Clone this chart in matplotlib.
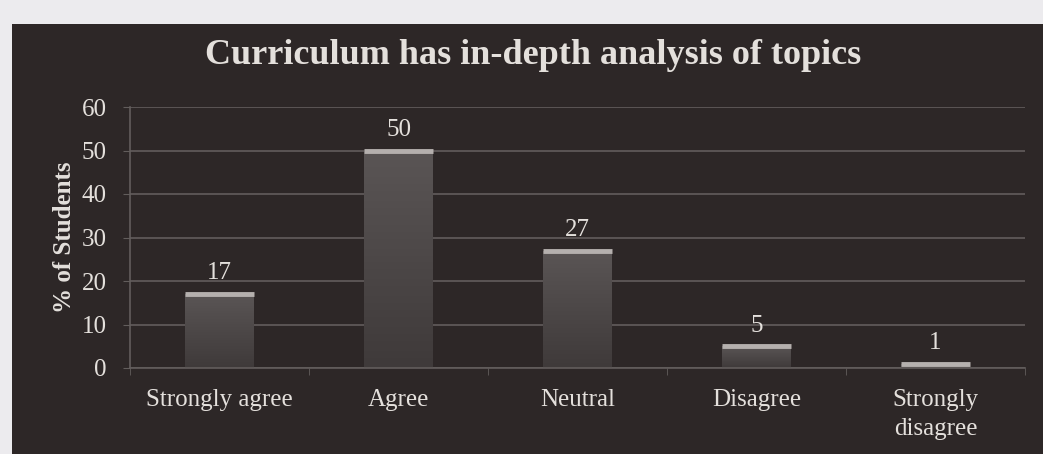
import matplotlib
matplotlib.use("Agg")
import matplotlib.pyplot as plt
import numpy as np
from matplotlib.patches import Rectangle
from matplotlib.colors import LinearSegmentedColormap

categories = ["Strongly agree", "Agree", "Neutral", "Disagree", "Strongly\ndisagree"]
values = [17, 50, 27, 5, 1]
yticks = [0, 10, 20, 30, 40, 50, 60]

bg = "#2d2727"
txt = "#e4e0dc"
grid = "#625d5c"
topc = "#b5b0ae"
cmap = LinearSegmentedColormap.from_list("bargrad", ["#3f3a3a", "#5a5555"])

plt.rcParams["font.family"] = ["Liberation Serif", "DejaVu Serif"]

fig = plt.figure(figsize=(10.43, 4.54), dpi=100)
fig.patch.set_facecolor("#ecebee")
fig.add_artist(Rectangle((12/1043, 0), 1, 1 - 24/454, transform=fig.transFigure,
                         facecolor=bg, edgecolor="none", zorder=0))

ax = fig.add_axes([130/1043, (454-368)/454, (1025-130)/1043, (368-107)/454])
ax.set_facecolor(bg)
x = np.arange(len(categories))
w = 0.38
bars = ax.bar(x, values, width=w, color="#4e4948", zorder=2)
grad = np.linspace(0, 1, 64).reshape(-1, 1)
for b in bars:
    x0, y0 = b.get_x(), b.get_y()
    im = ax.imshow(grad, cmap=cmap, aspect="auto", origin="lower",
                   extent=(x0, x0 + b.get_width(), y0, y0 + b.get_height()), zorder=2.5)
    im.set_clip_path(b)
ax.hlines(values, x - w/2, x + w/2, colors=topc, linewidth=3.5, zorder=3)

for xi, v in zip(x, values):
    ax.annotate(str(v), (xi, v), xytext=(0, 7), textcoords="offset points",
                ha="center", va="bottom", color=txt, fontsize=18)

ax.set_xlim(-0.5, len(categories) - 0.5)
ax.set_ylim(0, 60)
ax.set_yticks(yticks)
ax.set_yticklabels([str(t) for t in yticks], color=txt, fontsize=18)
ax.set_xticks(x)
ax.set_xticklabels(categories, color=txt, fontsize=18, linespacing=1.45)
ax.set_xticks(np.arange(len(categories) + 1) - 0.5, minor=True)
ax.tick_params(axis="x", which="major", length=0, pad=15)
ax.tick_params(axis="x", which="minor", length=5, color=grid)
ax.tick_params(axis="y", length=5, color=grid, pad=12)
ax.yaxis.grid(True, color=grid, linewidth=1.2, zorder=1)
ax.set_axisbelow(True)
for s in ["top", "right"]:
    ax.spines[s].set_visible(False)
for s in ["left", "bottom"]:
    ax.spines[s].set_color(grid)
    ax.spines[s].set_linewidth(1.2)

ax.set_ylabel("% of Students", color=txt, fontsize=18, fontweight="bold", labelpad=4)
fig.text(533/1043, 1 - 55/454, "Curriculum has in-depth analysis of topics",
         ha="center", va="center", color=txt, fontsize=26, fontweight="bold")

fig.savefig("out.png", dpi=100, facecolor=fig.get_facecolor())
